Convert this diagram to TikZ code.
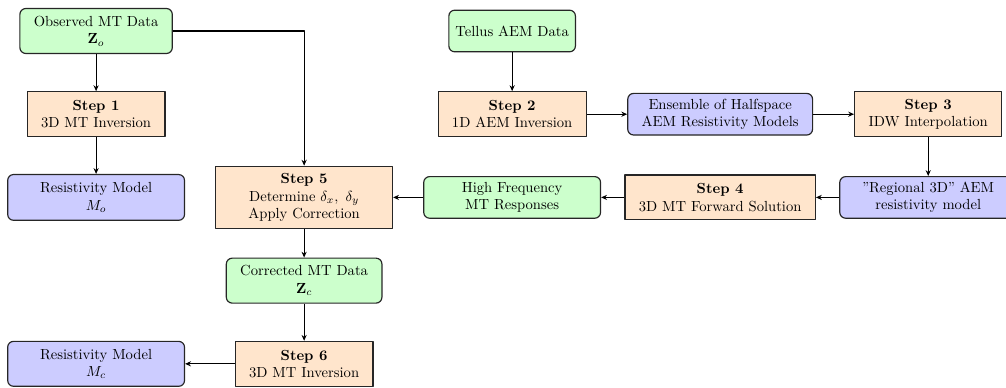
\documentclass[tikz,border=0pt]{standalone}
\usepackage{amsmath}
\usetikzlibrary{arrows.meta}
\definecolor{datagreen}{RGB}{204,255,204}
\definecolor{modelblue}{RGB}{204,204,255}
\definecolor{steporange}{RGB}{255,229,204}

\begin{document}
\begin{tikzpicture}[
    >={Stealth[length=4pt,width=3.5pt]},
    line join=round,
    box/.style={draw=black!85, thick, align=center, inner xsep=9.5pt},
    databox/.style={box, fill=datagreen, rounded corners=4pt, minimum height=1cm},
    stepbox/.style={box, fill=steporange, inner ysep=4.8pt, minimum height=1.08cm},
    modelbox/.style={box, fill=modelblue, rounded corners=4pt,
                     minimum width=4.25cm, minimum height=1cm},
    flow/.style={->, thick},
]

% ── Layout parameters ───────────────────────────────────────────────────────
\def\colsep{5}   % distance between columns [cm]
\def\rowsep{2}   % distance between rows [cm]

\useasboundingbox (-2.31,0.745) rectangle (21.87,-8.558);

% ── MT branch (left) ────────────────────────────────────────────────────────
\node[databox, minimum height=1.08cm] (obs) at (0,0)
    {Observed MT Data\\$\mathbf{Z}_o$};
\node[stepbox] (step1) at (0,-\rowsep)
    {\textbf{Step 1}\\3D MT Inversion};
\node[modelbox, minimum height=1.1cm] (rmo) at (0,-2*\rowsep)
    {Resistivity Model\\$M_o$};

% ── AEM branch (top right) ──────────────────────────────────────────────────
\node[databox, inner xsep=4.5pt] (tellus) at (2*\colsep,0)
    {Tellus AEM Data};
\node[stepbox] (step2) at (2*\colsep,-\rowsep)
    {\textbf{Step 2}\\1D AEM Inversion};
\node[modelbox] (ens) at (3*\colsep,-\rowsep)
    {Ensemble of Halfspace\\AEM Resistivity Models};
\node[stepbox] (step3) at (4*\colsep,-\rowsep)
    {\textbf{Step 3}\\IDW Interpolation};

% ── Forward modelling row ───────────────────────────────────────────────────
\node[modelbox] (reg) at (4*\colsep,-2*\rowsep)
    {\textquotedblright Regional 3D\textquotedblright\ AEM\\resistivity model};
\node[stepbox] (step4) at (3*\colsep,-2*\rowsep)
    {\textbf{Step 4}\\3D MT Forward Solution};
\node[databox, minimum width=4.25cm] (hf) at (2*\colsep,-2*\rowsep)
    {High Frequency\\MT Responses};
\node[stepbox, minimum width=4.25cm, minimum height=1.49cm] (step5) at (\colsep,-2*\rowsep)
    {\textbf{Step 5}\\Determine $\delta_x,\ \delta_y$\\Apply Correction};

% ── Corrected data and final inversion ──────────────────────────────────────
\node[databox, minimum height=1.08cm] (corr) at (\colsep,-3*\rowsep)
    {Corrected MT Data\\$\mathbf{Z}_c$};
\node[stepbox] (step6) at (\colsep,-4*\rowsep)
    {\textbf{Step 6}\\3D MT Inversion};
\node[modelbox, minimum height=1.08cm] (rmc) at (0,-4*\rowsep)
    {Resistivity Model\\$M_c$};

% ── Connectors ──────────────────────────────────────────────────────────────
\draw[flow] (obs) -- (step1);
\draw[flow] (step1) -- (rmo);
\draw[flow] (obs.east) -| (step5.north);

\draw[flow] (tellus) -- (step2);
\draw[flow] (step2) -- (ens);
\draw[flow] (ens) -- (step3);
\draw[flow] (step3) -- (reg);

\draw[flow] (reg) -- (step4);
\draw[flow] (step4) -- (hf);
\draw[flow] (hf) -- (step5);

\draw[flow] (step5) -- (corr);
\draw[flow] (corr) -- (step6);
\draw[flow] (step6) -- (rmc);

\end{tikzpicture}
\end{document}
